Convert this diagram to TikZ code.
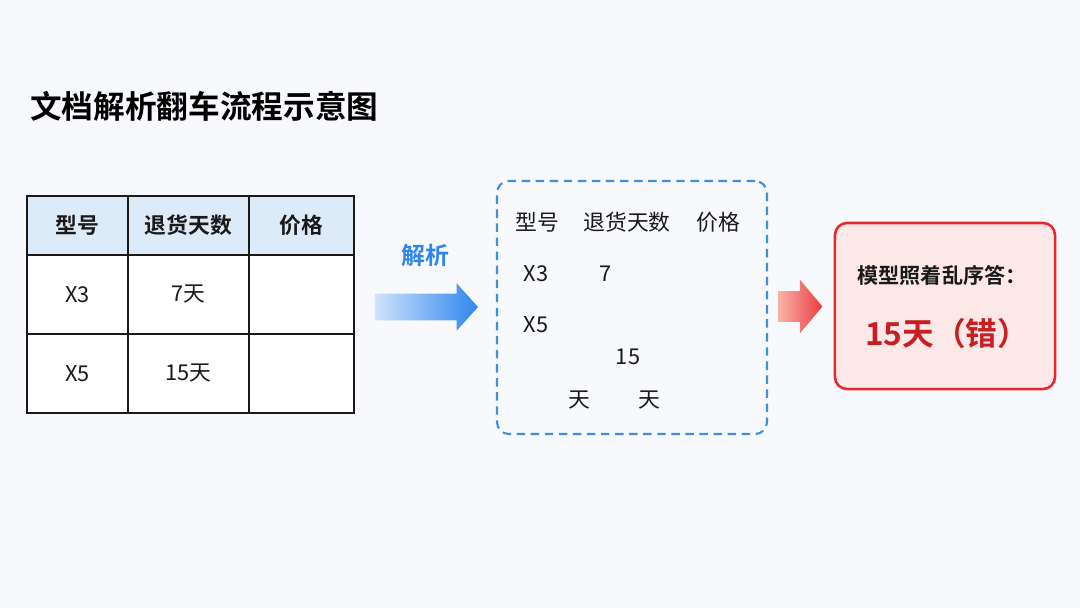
\documentclass[tikz,border=0pt]{standalone}
\usepackage{fontspec}
\setmainfont{Noto Sans CJK SC}[BoldFont={Noto Sans CJK SC Bold}]
\usetikzlibrary{calc,
shapes.arrows,
positioning}
\definecolor{bgpage}{HTML}{F7F9FC}
\definecolor{headblue}{HTML}{DDEBF8}
\definecolor{dashblue}{HTML}{3D8FE3}
\definecolor{arrowblue}{HTML}{2F86EE}
\definecolor{paleblue}{HTML}{CFE3FB}
\definecolor{errred}{HTML}{E8262B}
\definecolor{errfill}{HTML}{FDE8E8}
\definecolor{errtext}{HTML}{C81E22}
\definecolor{palered}{HTML}{F9B3A8}
\definecolor{inkgray}{HTML}{1A1A1A}

\begin{document}
\begin{tikzpicture} [x=0.025cm, y=-0.025cm,
    cell/.style={draw=inkgray, fill=white, line width=1.1pt, inner sep=0pt,
        font=\fontsize{15.5}{18}\selectfont, text=inkgray},
    head cell/.style={cell, fill=headblue, minimum height=1.475cm,
        font=\bfseries\fontsize{15.5}{18}\selectfont},
    body cell/.style={cell, minimum height=1.975cm},
    loose/.style={font=\fontsize{15.5}{18}\selectfont, text=inkgray, inner sep=0pt},
    block arrow/.style={single arrow, draw=none, inner xsep=0pt,
        single arrow head indent=0pt}
  ]

  \fill [bgpage] (0, 0) rectangle (1080, 608);

  \node [anchor = west, inner sep = 0pt, font=\bfseries\fontsize{22.5}{26}\selectfont, text=black]
    (title) at (30, 106) {文档解析翻车流程示意图};

  % original table
  \node [head cell, minimum width = 2.525cm] (hmodel) at (77.5, 225.5) {型号};
  \node [head cell, minimum width = 3.025cm] (hdays) at (188.5, 225.5) {退货天数};
  \node [head cell, minimum width = 2.625cm] (hprice) at (301.5, 225.5) {价格};
  \node [body cell, minimum width = 2.525cm] (ax3) at (77.5, 294.5) {X3};
  \node [body cell, minimum width = 3.025cm] (adays) at (188.5, 294.5) {7天};
  \node [body cell, minimum width = 2.625cm] (aprice) at (301.5, 294.5) {};
  \node [body cell, minimum width = 2.525cm] (bx5) at (77.5, 373.5) {X5};
  \node [body cell, minimum width = 3.025cm] (bdays) at (188.5, 373.5) {15天};
  \node [body cell, minimum width = 2.625cm] (bprice) at (301.5, 373.5) {};

  \node [block arrow,
    inner ysep = 0.325cm,
    minimum height = 2.575cm,
    single arrow head extend = 0.26cm,
    single arrow tip angle = 96,
    left color = paleblue, right color = arrowblue
  ] (parse) at (420.5, 307) {};

  \node [font=\bfseries\fontsize{17}{20}\selectfont, text=arrowblue, inner sep = 0pt]
    (parselbl) at (425, 255) {解析};

  % what the parser returns
  \node [draw = dashblue,
    line width = 1.5pt,
    dash pattern = on 6pt off 4pt,
    rounded corners = 0.3cm,
    minimum width = 6.75cm,
    minimum height = 6.325cm
  ] (parsed) at (632, 307.5) {};

  \node [loose] (pmodel) at (537, 222) {型号};
  \node [loose] (pdays) at (627, 222) {退货天数};
  \node [loose] (pprice) at (718, 222) {价格};
  \node [loose] (px3) at (536, 274) {X3};
  \node [loose] (pseven) at (606, 274) {7};
  \node [loose] (px5) at (536, 325) {X5};
  \node [loose] (pfifteen) at (628, 357) {15};
  \node [loose] (pdayA) at (579, 400) {天};
  \node [loose] (pdayB) at (649, 400) {天};

  \node [block arrow,
    inner ysep = 0.375cm,
    minimum height = 1.1cm,
    single arrow head extend = 0.29cm,
    single arrow tip angle = 100,
    left color = palered, right color = errred!90
  ] (answer) at (794, 306.5) {};

  \node [draw = errred,
    fill = errfill,
    line width = 1.8pt,
    rounded corners = 0.3cm,
    minimum width = 5.5cm,
    minimum height = 4.15cm
  ] (wrong) at (945, 306) {};

  \node [font=\bfseries\fontsize{15}{18}\selectfont, text=inkgray, inner sep=0pt]
    (wronglbl) at (942, 275) {模型照着乱序答：};
  \node [font=\bfseries\fontsize{22.5}{26}\selectfont, text=errtext, inner sep=0pt]
    (wrongval) at (947, 333) {15天（错）};

\end{tikzpicture}
\end{document}
